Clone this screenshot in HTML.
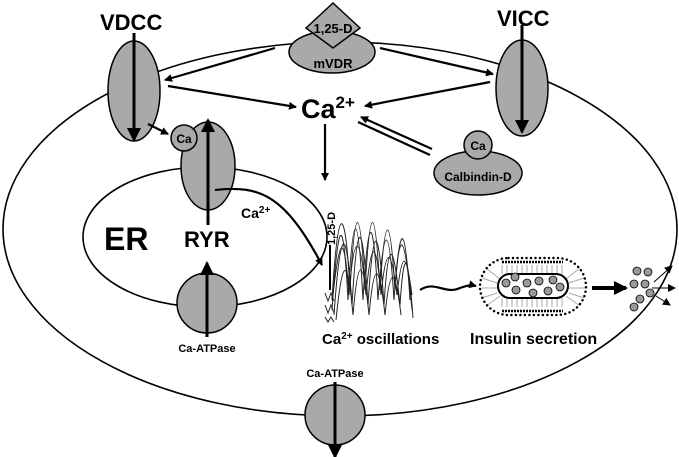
<!DOCTYPE html>
<html><head><meta charset="utf-8"><style>body{margin:0;background:#fff}svg{display:block}text{font-family:"Liberation Sans",sans-serif;font-weight:bold}</style></head><body>
<svg width="679" height="457" viewBox="0 0 679 457" xmlns="http://www.w3.org/2000/svg">
<defs>
<marker id="a" markerWidth="8" markerHeight="8" refX="7" refY="4" orient="auto" markerUnits="userSpaceOnUse"><path d="M0,0L8,4L0,8z" fill="#000"/></marker>
<marker id="b" markerWidth="14" markerHeight="14" refX="12" refY="7" orient="auto" markerUnits="userSpaceOnUse"><path d="M0,0L14,7L0,14z" fill="#000"/></marker>
</defs>
<g fill="none" stroke="#000" stroke-width="1.6">
<ellipse cx="340" cy="229" rx="337" ry="187"/>
<ellipse cx="205" cy="237" rx="122" ry="70"/>
</g>
<g fill="#a9a9a9" stroke="#000" stroke-width="1.5">
<ellipse cx="134" cy="91" rx="26" ry="50"/>
<ellipse cx="522" cy="88" rx="26" ry="48"/>
<ellipse cx="208" cy="166" rx="27" ry="44"/>
<circle cx="184" cy="138" r="13"/>
<circle cx="207" cy="303" r="30"/>
<circle cx="335" cy="415" r="30"/>
<ellipse cx="478" cy="173" rx="44" ry="22"/>
<circle cx="478" cy="145" r="14"/>
<ellipse cx="332" cy="52" rx="43" ry="21"/>
<path d="M333,3L360,28L333,48L306,28z"/>
</g>
<g stroke="#000" stroke-width="3" fill="none">
<line x1="134" y1="33" x2="134" y2="140" marker-end="url(#b)"/>
<line x1="522" y1="25" x2="522" y2="132" marker-end="url(#b)"/>
<line x1="208" y1="225" x2="208" y2="120" marker-end="url(#b)"/>
<line x1="207" y1="337" x2="207" y2="263" marker-end="url(#b)"/>
<line x1="335" y1="382" x2="335" y2="457" marker-end="url(#b)"/>
</g>
<g stroke="#000" stroke-width="2.2" fill="none">
<line x1="275" y1="48" x2="165" y2="80" marker-end="url(#a)"/>
<line x1="380" y1="48" x2="493" y2="74" marker-end="url(#a)"/>
<line x1="168" y1="86" x2="296" y2="107" marker-end="url(#a)"/>
<line x1="490" y1="82" x2="365" y2="106" marker-end="url(#a)"/>
<line x1="148" y1="124" x2="168" y2="134" marker-end="url(#a)"/>
<line x1="325" y1="124" x2="325" y2="180" marker-end="url(#a)"/>
<line x1="358" y1="122" x2="430" y2="155" />
<line x1="432" y1="149" x2="361" y2="117" marker-end="url(#a)"/>
<path d="M215,190 C260,185 285,195 322,265" marker-end="url(#a)"/>
<path d="M420,290 C435,280 445,295 460,288 C468,285 472,285 476,286" marker-end="url(#a)"/>
<line x1="592" y1="288" x2="626" y2="288" stroke-width="4" marker-end="url(#b)"/>
</g>
<g stroke="#000" stroke-width="1" fill="none">
<line x1="654" y1="282" x2="672" y2="266" marker-end="url(#a)"/>
<line x1="652" y1="288" x2="675" y2="288" marker-end="url(#a)"/>
<line x1="656" y1="296" x2="670" y2="305" marker-end="url(#a)"/>
<line x1="330" y1="245" x2="330" y2="290" stroke-width="2"/>
</g>
<g stroke="#222" stroke-width="1" fill="none">
<path d="M332,300 C338,200 345,200 350,290 C355,200 360,200 365,290 C370,200 375,200 380,290 C385,210 390,210 395,290 C400,220 405,220 410,300"/>
<path d="M332,310 C338,220 343,205 348,300 C353,205 358,205 363,300 C368,215 373,205 378,300 C384,220 389,220 394,300 C399,225 404,225 412,310"/>
<path d="M334,315 C340,230 346,215 352,305 C357,220 362,210 368,305 C373,225 378,215 384,305 C388,240 393,235 400,305 C404,245 408,250 413,318"/>
<path d="M333,295 C339,240 344,225 349,295 C354,230 360,230 366,295 C371,240 376,235 381,295 C386,245 391,245 397,295 C402,250 406,250 412,295"/>
<path d="M336,320 C342,260 347,250 353,315 C358,255 363,255 369,315 C374,260 379,260 385,315 C390,265 395,265 401,315"/>
<path d="M325,293 l3,8 l3,-8 l3,8 M325,305 l3,8 l3,-8 l3,8 M325,317 l3,5 l3,-5 l3,5"/>
</g>
<g fill="none" stroke="#aaa" stroke-width="1">
<path d="M502,265V274M507,265V274M512,265V274M517,265V274M522,265V274M527,265V274M532,265V274M537,265V274M542,265V274M547,265V274M552,265V274M557,265V274M562,265V274M502,298V307M507,298V307M512,298V307M517,298V307M522,298V307M527,298V307M532,298V307M537,298V307M542,298V307M547,298V307M552,298V307M557,298V307M562,298V307"/>
<path d="M486,268L500,279M482,278L497,283M482,288L497,288M482,298L497,293M486,306L500,296M580,268L566,279M584,278L569,283M585,288L569,288M584,298L569,293M580,306L566,296"/>
</g>
<g fill="none" stroke="#000" stroke-width="2.5" stroke-linecap="round" stroke-dasharray="0 4.5">
<rect x="480" y="258" width="106" height="57" rx="28.5"/>
</g>
<g fill="none" stroke="#000" stroke-width="2.5" stroke-dasharray="2 1">
<line x1="502" y1="262" x2="563" y2="262"/><line x1="502" y1="311" x2="563" y2="311"/>
</g>
<rect x="498" y="274" width="70" height="24" rx="12" fill="none" stroke="#000" stroke-width="2"/>
<g fill="#999" stroke="#000" stroke-width="0.8">
<circle cx="506" cy="283" r="4"/><circle cx="515" cy="277" r="4"/><circle cx="516" cy="290" r="4"/><circle cx="527" cy="283" r="4"/><circle cx="533" cy="293" r="4"/><circle cx="539" cy="281" r="4"/><circle cx="548" cy="291" r="4"/><circle cx="553" cy="280" r="4"/><circle cx="560" cy="287" r="4"/>
<circle cx="637" cy="271" r="4"/><circle cx="648" cy="272" r="4"/><circle cx="634" cy="284" r="4"/><circle cx="645" cy="284" r="4"/><circle cx="650" cy="293" r="4"/><circle cx="640" cy="299" r="4"/><circle cx="634" cy="307" r="4"/>
</g>
<text x="100" y="30" font-size="22">VDCC</text>
<text x="497" y="26" font-size="22">VICC</text>
<text x="333" y="33" font-size="13" text-anchor="middle">1,25-D</text>
<text x="333" y="68" font-size="13" text-anchor="middle">mVDR</text>
<text x="301" y="118" font-size="27">Ca<tspan font-size="17" dy="-10">2+</tspan></text>
<text x="184" y="143" font-size="12" text-anchor="middle">Ca</text>
<text x="478" y="150" font-size="12" text-anchor="middle">Ca</text>
<text x="478" y="181" font-size="12" text-anchor="middle">Calbindin-D</text>
<text x="104" y="250" font-size="32">ER</text>
<text x="184" y="247" font-size="22">RYR</text>
<text x="241" y="218" font-size="14">Ca<tspan font-size="10" dy="-5">2+</tspan></text>
<text x="207" y="352" font-size="11" text-anchor="middle">Ca-ATPase</text>
<text x="335" y="377" font-size="11" text-anchor="middle">Ca-ATPase</text>
<text x="322" y="344" font-size="15">Ca<tspan font-size="10" dy="-5">2+</tspan><tspan dy="5"> oscillations</tspan></text>
<text x="470" y="344" font-size="16">Insulin secretion</text>
<text transform="translate(335,245) rotate(-90)" font-size="11">1,25-D</text>
</svg>
</body></html>
